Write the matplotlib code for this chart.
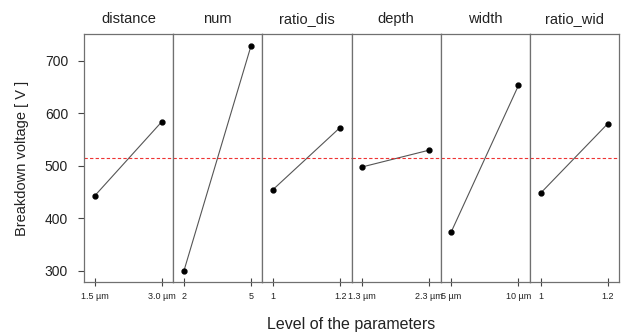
import matplotlib.pyplot as plt

plt.rcParams['font.family'] = ['Liberation Sans', 'DejaVu Sans']

# factor names and the two levels per factor
factors = ['distance', 'num', 'ratio_dis', 'depth', 'width', 'ratio_wid']
level_labels = [
    ['1.5 \u00b5m', '3.0 \u00b5m'],
    ['2', '5'],
    ['1', '1.2'],
    ['1.3 \u00b5m', '2.3 \u00b5m'],
    ['5 \u00b5m', '10 \u00b5m'],
    ['1', '1.2'],
]
# mean breakdown voltage at low / high level
low_means = [443, 300, 455, 498, 375, 448]
high_means = [584, 728, 573, 530, 653, 580]
grand_mean = 515

fig = plt.figure(figsize=(6.24, 3.33), dpi=100)
left, right = 84 / 624, 619 / 624
bottom, top = 1 - 282 / 333, 1 - 34 / 333
w = (right - left) / len(factors)

text_col = '#222222'
frame_col = '#707070'

for i, name in enumerate(factors):
    ax = fig.add_axes([left + i * w, bottom, w, top - bottom])
    ax.plot([0, 1], [low_means[i], high_means[i]], color='#555555', lw=0.8,
            marker='o', ms=3.5, mfc='black', mec='black')
    ax.axhline(grand_mean, color='#ee3333', lw=0.8, ls=(0, (3, 2)))
    ax.set_xlim(-0.16, 1.17)
    ax.set_ylim(279, 751)
    ax.set_xticks([0, 1])
    ax.set_xticklabels(level_labels[i], fontsize=6.5, color=text_col)
    ax.tick_params(axis='x', direction='inout', length=6, width=0.8,
                   color='#444444', pad=4)
    ax.set_title(name, fontsize=10.5, color=text_col, pad=8)
    for s in ax.spines.values():
        s.set_color(frame_col)
        s.set_linewidth(0.9)
    if i == 0:
        ax.set_yticks([300, 400, 500, 600, 700])
        ax.tick_params(axis='y', length=4.5, width=0.8, color='#444444',
                       labelsize=10, labelcolor=text_col, pad=7)
        ax.set_ylabel('Breakdown voltage [ V ]', fontsize=10.5,
                      color=text_col, labelpad=11)
    else:
        ax.set_yticks([])

fig.text((left + right) / 2, 1 - 325 / 333, 'Level of the parameters',
         ha='center', va='center', fontsize=11.5, color=text_col)

fig.savefig('out.png', dpi=100)
